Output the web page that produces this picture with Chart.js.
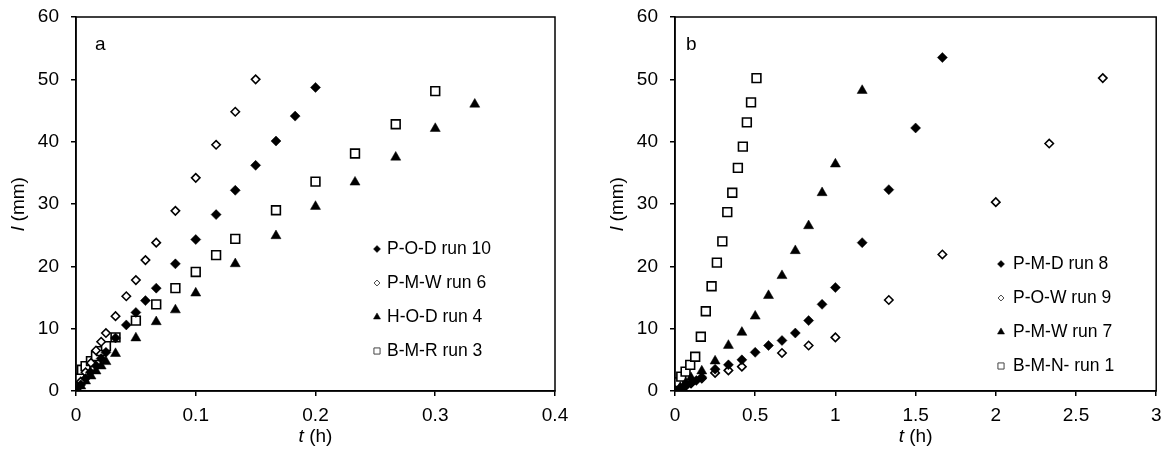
<!DOCTYPE html>
<html><head><meta charset="utf-8">
<script src="https://cdn.jsdelivr.net/npm/chart.js@4/dist/chart.umd.min.js"></script>
<style>
body{margin:0;background:#fff;width:1164px;height:456px;overflow:hidden;position:relative}
canvas{position:absolute;top:0}
#ca{left:0;width:580px;height:456px}
#cb{left:580px;width:584px;height:456px}
</style></head>
<body>
<canvas id="ca" width="580" height="456"></canvas>
<canvas id="cb" width="584" height="456"></canvas>
<script>
// ---- tick labels ----
const xTicksA = [0, 0.1, 0.2, 0.3, 0.4];
const xTicksB = [0, 0.5, 1, 1.5, 2, 2.5, 3];
const yTicks  = [0, 10, 20, 30, 40, 50, 60];

// ---- panel a ----
const labelsA = ['P-O-D run 10', 'P-M-W run 6', 'H-O-D run 4', 'B-M-R run 3'];
const podRun10T = [0,0.004,0.008,0.012,0.017,0.021,0.025,0.033,0.042,0.05,0.058,0.067,0.083,0.1,0.117,0.133,0.15,0.167,0.183,0.2];
const podRun10L = [0,1,2,3,4,5.2,6.2,8.5,10.6,12.6,14.5,16.5,20.4,24.3,28.3,32.2,36.2,40.1,44.1,48.7];
const pmwRun6T = [0,0.004,0.008,0.0125,0.0167,0.021,0.025,0.033,0.042,0.05,0.058,0.067,0.083,0.1,0.117,0.133,0.15];
const pmwRun6L = [0,1.5,3,4.5,6.5,7.9,9.3,12,15.2,17.8,21,23.8,28.9,34.2,39.5,44.8,50];
const hodRun4T = [0,0.004,0.008,0.0125,0.0167,0.021,0.025,0.033,0.05,0.067,0.083,0.1,0.133,0.167,0.2,0.233,0.267,0.3,0.333];
const hodRun4L = [0,0.8,1.6,2.4,3.2,4,4.7,6,8.5,11.1,13,15.7,20.4,24.9,29.6,33.5,37.5,42.1,46];
const bmrRun3T = [0,0.003,0.005,0.008,0.0125,0.0167,0.021,0.025,0.033,0.05,0.067,0.083,0.1,0.117,0.133,0.167,0.2,0.233,0.267,0.3];
const bmrRun3L = [0,2,3.4,4,4.8,5.6,6.4,7.2,8.6,11.3,13.9,16.5,19.1,21.8,24.4,29,33.6,38.1,42.8,48.1];

// ---- panel b ----
const labelsB = ['P-M-D run 8', 'P-O-W run 9', 'P-M-W run 7', 'B-M-N- run 1'];
const pmdRun8T = [0,0.033,0.067,0.1,0.133,0.167,0.25,0.333,0.417,0.5,0.583,0.667,0.75,0.833,0.917,1.0,1.167,1.333,1.5,1.667];
const pmdRun8L = [0,0.5,0.9,1.3,1.7,2.2,3.5,4.2,5.0,6.2,7.3,8.1,9.3,11.3,13.9,16.6,23.8,32.3,42.2,53.5];
const powRun9T = [0,0.033,0.067,0.1,0.167,0.25,0.333,0.417,0.667,0.833,1.0,1.333,1.667,2.0,2.333,2.667];
const powRun9L = [0,0.4,0.8,1.2,2.0,2.9,3.3,3.9,6.1,7.3,8.6,14.6,21.9,30.3,39.7,50.2];
const pmwRun7T = [0,0.033,0.067,0.1,0.167,0.25,0.333,0.417,0.5,0.583,0.667,0.75,0.833,0.917,1.0,1.167];
const pmwRun7L = [0,0.6,1.3,2.1,3.2,4.8,7.3,9.4,12.0,15.3,18.5,22.5,26.5,31.8,36.4,48.2];
const bmnRun1T = [0,0.01,0.022,0.039,0.066,0.095,0.126,0.161,0.192,0.228,0.261,0.295,0.326,0.357,0.392,0.423,0.448,0.474,0.508];
const bmnRun1L = [0,0.8,1.4,2.3,3.1,4.2,5.5,8.7,12.8,16.8,20.6,24.0,28.7,31.8,35.8,39.2,43.1,46.3,50.2];

const FONT = '"Liberation Sans", Arial, sans-serif';
const FS = 19;
const LFS = 17.5;

function pts(t, l) { return t.map((v, i) => ({x: v, y: l[i]})); }

const styles = [
  {pointStyle:'rectRot', radius:5, backgroundColor:'#000', borderColor:'#000', borderWidth:0.5},
  {pointStyle:'rectRot', radius:4.2, backgroundColor:'#fff', borderColor:'#000', borderWidth:1.6},
  {pointStyle:'triangle', radius:5.8, backgroundColor:'#000', borderColor:'#000', borderWidth:0.5},
  {pointStyle:'rect', radius:6.2, backgroundColor:'#fff', borderColor:'#000', borderWidth:1.6}
];

function mkDatasets(labels, series) {
  return series.map((s, i) => ({
    label: labels[i],
    data: pts(s[0], s[1]),
    pointStyle: styles[i].pointStyle,
    pointRadius: styles[i].radius,
    pointHoverRadius: styles[i].radius,
    pointBackgroundColor: styles[i].backgroundColor,
    pointBorderColor: styles[i].borderColor,
    pointBorderWidth: styles[i].borderWidth,
    showLine: false
  }));
}

const framePlugin = {
  id: 'frame',
  afterDraw(chart, args, o) {
    const ctx = chart.ctx, a = chart.chartArea;
    ctx.save();
    ctx.strokeStyle = '#000';
    ctx.lineWidth = 1.5;
    ctx.strokeRect(a.left, a.top, a.right - a.left, a.bottom - a.top);
    ctx.fillStyle = '#000';
    ctx.textBaseline = 'middle';
    // y title
    ctx.save();
    ctx.translate(o.yTitleX, (a.top + a.bottom) / 2);
    ctx.rotate(-Math.PI / 2);
    ctx.font = 'italic ' + FS + 'px ' + FONT;
    const w1 = ctx.measureText('l').width;
    ctx.font = FS + 'px ' + FONT;
    const w2 = ctx.measureText(' (mm)').width;
    let x0 = -(w1 + w2) / 2;
    ctx.textAlign = 'left';
    ctx.font = 'italic ' + FS + 'px ' + FONT;
    ctx.fillText('l', x0, 0);
    ctx.font = FS + 'px ' + FONT;
    ctx.fillText(' (mm)', x0 + w1, 0);
    ctx.restore();
    // x title
    ctx.font = 'italic ' + FS + 'px ' + FONT;
    const v1 = ctx.measureText('t').width;
    ctx.font = FS + 'px ' + FONT;
    const v2 = ctx.measureText(' (h)').width;
    let xs = (a.left + a.right) / 2 - (v1 + v2) / 2;
    ctx.textAlign = 'left';
    ctx.font = 'italic ' + FS + 'px ' + FONT;
    ctx.fillText('t', xs, o.xTitleY);
    ctx.font = FS + 'px ' + FONT;
    ctx.fillText(' (h)', xs + v1, o.xTitleY);
    // panel letter
    ctx.fillText(o.letter, o.letterX, o.letterY);
    // legend
    chart.data.datasets.forEach((ds, i) => {
      const y = o.legY[i];
      const st = styles[i];
      const open = st.backgroundColor === '#fff';
      ctx.fillStyle = st.backgroundColor;
      ctx.strokeStyle = open ? '#444' : '#000';
      ctx.lineWidth = open ? 1 : 0.5;
      Chart.helpers.drawPoint(ctx, {pointStyle: st.pointStyle, radius: st.radius * 0.7, rotation: 0, borderWidth: ctx.lineWidth}, o.legMarkX, y);
      ctx.fillStyle = '#000';
      ctx.font = LFS + 'px ' + FONT;
      ctx.textAlign = 'left';
      ctx.fillText(ds.label, o.legTextX, y);
    });
    ctx.restore();
  }
};

function mkOptions(xTicks, xMax, yAxisWidth, padRight, frame) {
  return {
    responsive: false,
    animation: false,
    events: [],
    layout: {padding: {top: 17, right: padRight, left: 0, bottom: 0}},
    plugins: {legend: {display: false}, tooltip: {enabled: false}, frame: frame},
    scales: {
      x: {
        type: 'linear', min: 0, max: xMax,
        afterBuildTicks: s => { s.ticks = xTicks.map(v => ({value: v})); },
        afterFit: s => { s.height = 65; s.paddingLeft = 0; s.paddingRight = 0; },
        ticks: {font: {family: FONT, size: FS}, color: '#000', padding: 8, maxRotation: 0, autoSkip: false, callback: v => String(v)},
        grid: {drawOnChartArea: false, drawTicks: true, tickLength: 5, color: '#000', lineWidth: 1.5},
        border: {color: '#000', width: 1.5}
      },
      y: {
        type: 'linear', min: 0, max: 60,
        afterBuildTicks: s => { s.ticks = yTicks.map(v => ({value: v})); },
        afterFit: s => { s.width = yAxisWidth; s.paddingTop = 0; s.paddingBottom = 0; },
        ticks: {font: {family: FONT, size: FS}, color: '#000', padding: 12, autoSkip: false, callback: v => String(v)},
        grid: {drawOnChartArea: false, drawTicks: true, tickLength: 5, color: '#000', lineWidth: 1.5},
        border: {color: '#000', width: 1.5}
      }
    }
  };
}

new Chart(document.getElementById('ca'), {
  type: 'scatter',
  data: {datasets: mkDatasets(labelsA, [[podRun10T, podRun10L], [pmwRun6T, pmwRun6L], [hodRun4T, hodRun4L], [bmrRun3T, bmrRun3L]])},
  options: mkOptions(xTicksA, 0.4, 76, 25, {yTitleX: 19, xTitleY: 437, letter: 'a', letterX: 95, letterY: 45, legMarkX: 377, legTextX: 387, legY: [249, 283, 317, 351]}),
  plugins: [framePlugin]
});

new Chart(document.getElementById('cb'), {
  type: 'scatter',
  data: {datasets: mkDatasets(labelsB, [[pmdRun8T, pmdRun8L], [powRun9T, powRun9L], [pmwRun7T, pmwRun7L], [bmnRun1T, bmnRun1L]])},
  options: mkOptions(xTicksB, 3, 95, 7, {yTitleX: 38, xTitleY: 437, letter: 'b', letterX: 106, letterY: 45, legMarkX: 421, legTextX: 433, legY: [264, 298, 332, 366]}),
  plugins: [framePlugin]
});
</script>
</body></html>
